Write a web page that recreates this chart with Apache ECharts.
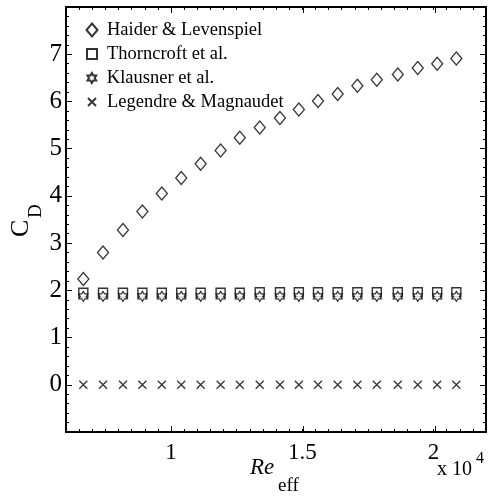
<!DOCTYPE html>
<html>
<head>
<meta charset="utf-8">
<style>
  html, body { margin: 0; padding: 0; background: #fff; }
  #chart { width: 489px; height: 498px; }
</style>
<script src="https://cdn.jsdelivr.net/npm/echarts@6/dist/echarts.min.js"></script>
</head>
<body>
<div id="chart"></div>
<script>
// Effective Reynolds number of each case
const reEff = [6660, 7410, 8170, 8910, 9650, 10390, 11130, 11890, 12620, 13380,
               14150, 14870, 15600, 16350, 17100, 17840, 18640, 19400, 20140, 20870];

// Drag coefficient predicted by each correlation
const cdHaider      = [2.24, 2.80, 3.28, 3.67, 4.05, 4.38, 4.68, 4.96, 5.23, 5.45,
                       5.65, 5.83, 6.01, 6.16, 6.33, 6.46, 6.57, 6.71, 6.80, 6.91];
const cdThorncroft  = [1.95, 1.95, 1.95, 1.95, 1.95, 1.95, 1.95, 1.95, 1.95, 1.96,
                       1.96, 1.96, 1.96, 1.96, 1.96, 1.96, 1.96, 1.96, 1.96, 1.96];
const cdKlausner    = [1.87, 1.87, 1.87, 1.87, 1.87, 1.87, 1.87, 1.87, 1.87, 1.87,
                       1.87, 1.87, 1.87, 1.87, 1.87, 1.87, 1.87, 1.87, 1.87, 1.87];
const cdLegendre    = [0, 0, 0, 0, 0, 0, 0, 0, 0, 0,
                       0, 0, 0, 0, 0, 0, 0, 0, 0, 0];

const seriesNames = ['Haider & Levenspiel', 'Thorncroft et al.', 'Klausner et al.', 'Legendre & Magnaudet'];

// Axis tick values
const xMajorTicks = [10000, 15000, 20000];
const yTickLabels = [0, 1, 2, 3, 4, 5, 6, 7];

const SERIF = "'Liberation Serif', 'Times New Roman', serif";
const STAR = 'path://M0,-10 L2.887,-5 L8.66,-5 L5.774,0 L8.66,5 L2.887,5 L0,10 L-2.887,5 L-8.66,5 L-5.774,0 L-8.66,-5 L-2.887,-5 Z';
const CROSS = 'path://M0,0 L10,10 M10,0 L0,10';

const zip = (xs, ys) => xs.map((x, i) => [x, ys[i]]);

const gridRect = { left: 66, right: 1, top: 7, bottom: 66, containLabel: false };

const xBase = {
  type: 'value', min: 6000, max: 22000, gridIndex: 0,
  splitLine: { show: false },
  axisLine: { show: true, onZero: false, lineStyle: { color: '#000', width: 2 } }
};
const yBase = {
  type: 'value', min: -1, max: 8, interval: 1, gridIndex: 0,
  splitLine: { show: false },
  axisLine: { show: true, onZero: false, lineStyle: { color: '#000', width: 2 } },
  axisTick: { show: true, inside: true, length: 6, lineStyle: { color: '#000', width: 1 } },
  minorTick: { show: true, splitNumber: 5, length: 3, lineStyle: { color: '#000', width: 1 } }
};

const xFmt = v => (xMajorTicks.indexOf(v) >= 0 ? String(v / 10000) : '');
const yFmt = v => (yTickLabels.indexOf(v) >= 0 ? String(v) : '');

const chart = echarts.init(document.getElementById('chart'), null, { renderer: 'canvas' });

// legend rows: icon box size, row centre; text begins at x = 106
const legendDefs = [
  { name: seriesNames[0], w: 11, h: 13, center: 30 },
  { name: seriesNames[1], w: 10, h: 10, center: 54 },
  { name: seriesNames[2], w: 9,  h: 10, center: 78 },
  { name: seriesNames[3], w: 8,  h: 8,  center: 102 }
];

const majorTickAxis = pos => Object.assign({}, xBase, {
  gridIndex: 1, position: pos,
  axisLine: { show: false, onZero: false },
  axisTick: { show: true, inside: true, length: 6, customValues: xMajorTicks, lineStyle: { color: '#000', width: 1 } },
  axisLabel: { show: false }
});

chart.setOption({
  animation: false,
  backgroundColor: '#fff',
  grid: [Object.assign({}, gridRect), Object.assign({}, gridRect)],
  xAxis: [
    Object.assign({}, xBase, {
      position: 'bottom', interval: 500,
      axisTick: { show: true, inside: true, length: 3, lineStyle: { color: '#000', width: 1 } },
      axisLabel: { show: true, formatter: xFmt, margin: 9, color: '#000', fontFamily: SERIF, fontSize: 23 }
    }),
    Object.assign({}, xBase, {
      position: 'top', interval: 500,
      axisTick: { show: true, inside: true, length: 3, lineStyle: { color: '#000', width: 1 } },
      axisLabel: { show: false }
    }),
    majorTickAxis('bottom'),
    majorTickAxis('top')
  ],
  yAxis: [
    Object.assign({}, yBase, {
      position: 'left',
      axisLabel: { show: true, formatter: yFmt, margin: 4, color: '#000', fontFamily: SERIF, fontSize: 25 }
    }),
    Object.assign({}, yBase, {
      position: 'right',
      axisLabel: { show: false }
    }),
    { type: 'value', min: -1, max: 8, gridIndex: 1, show: false }
  ],
  legend: legendDefs.map(d => ({
    data: [d.name],
    orient: 'vertical',
    left: 91 - d.w / 2,
    top: d.center - 10,
    padding: 0,
    itemWidth: d.w,
    itemHeight: d.h,
    itemGap: 0,
    selectedMode: false,
    textStyle: {
      color: '#000', fontFamily: SERIF, fontSize: 18.5, lineHeight: 20,
      padding: [0, 0, 0, 106 - (91 + d.w / 2 + 5)]
    }
  })),
  series: [
    {
      name: seriesNames[0], type: 'scatter', xAxisIndex: 0, yAxisIndex: 0,
      data: zip(reEff, cdHaider),
      symbol: 'diamond', symbolSize: [11, 13],
      itemStyle: { color: '#fff', borderColor: '#000', borderWidth: 1.3 }
    },
    {
      name: seriesNames[1], type: 'scatter', xAxisIndex: 0, yAxisIndex: 0,
      data: zip(reEff, cdThorncroft),
      symbol: 'rect', symbolSize: 9,
      itemStyle: { color: '#fff', borderColor: '#000', borderWidth: 1.4 }
    },
    {
      name: seriesNames[2], type: 'scatter', xAxisIndex: 0, yAxisIndex: 0,
      data: zip(reEff, cdKlausner),
      symbol: STAR, symbolSize: [9, 10],
      itemStyle: { color: '#fff', borderColor: '#000', borderWidth: 1.2 }
    },
    {
      name: seriesNames[3], type: 'scatter', xAxisIndex: 0, yAxisIndex: 0,
      data: zip(reEff, cdLegendre),
      symbol: CROSS, symbolSize: 8,
      itemStyle: { color: 'rgba(0,0,0,0)', borderColor: '#000', borderWidth: 1.3 }
    }
  ],
  graphic: [
    // y-axis title C_D, reading bottom to top
    {
      type: 'group', x: 21.5, y: 237, rotation: Math.PI / 2,
      children: [
        { type: 'text', x: 0, y: 0, style: { text: 'C', font: "26px 'Liberation Serif'", fill: '#000', align: 'left', verticalAlign: 'middle' } },
        { type: 'text', x: 19, y: 15, style: { text: 'D', font: "19px 'Liberation Serif'", fill: '#000', align: 'left', verticalAlign: 'middle' } }
      ]
    },
    // x-axis title Re_eff
    { type: 'text', x: 250, y: 468, style: { text: 'Re', font: "italic 23px 'Liberation Serif'", fill: '#000', align: 'left', verticalAlign: 'middle' } },
    { type: 'text', x: 278, y: 486, style: { text: 'eff', font: "19px 'Liberation Serif'", fill: '#000', align: 'left', verticalAlign: 'middle' } },
    // axis multiplier
    { type: 'text', x: 437, y: 470, style: { text: 'x 10', font: "20px 'Liberation Serif'", fill: '#000', align: 'left', verticalAlign: 'middle' } },
    { type: 'text', x: 476, y: 459, style: { text: '4', font: "16px 'Liberation Serif'", fill: '#000', align: 'left', verticalAlign: 'middle' } }
  ]
});
</script>
</body>
</html>
